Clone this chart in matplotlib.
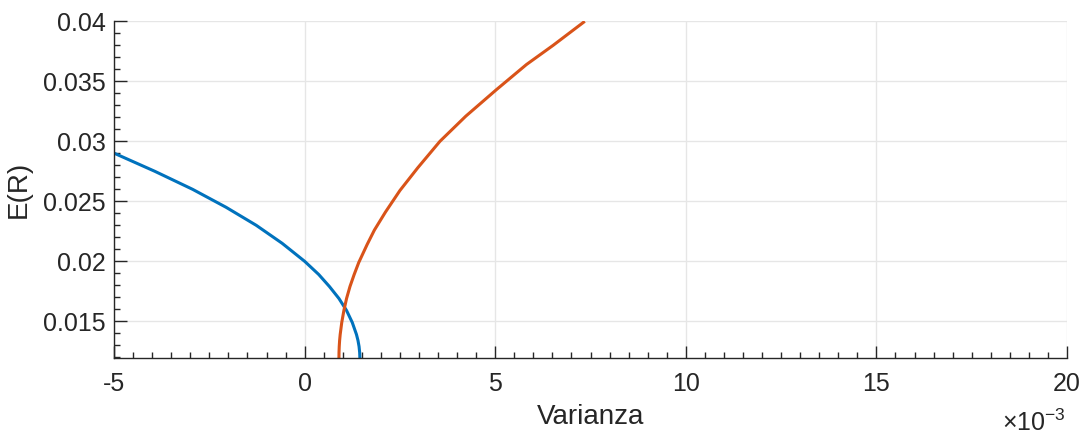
import numpy as np
import matplotlib
matplotlib.use("Agg")
import matplotlib.pyplot as plt
from matplotlib.ticker import FuncFormatter, MultipleLocator

plt.rcParams['font.family'] = ['Liberation Sans', 'DejaVu Sans']
plt.rcParams['mathtext.fontset'] = 'custom'
plt.rcParams['mathtext.rm'] = 'Liberation Sans'
plt.rcParams['axes.unicode_minus'] = False

# values (variance in units of 1e-3)
blue_var = [-4.99, -3.93, -2.94, -2.06, -1.27, -0.59, 0.0, 0.37, 0.65, 0.90,
            1.10, 1.25, 1.36, 1.40, 1.428, 1.444, 1.45]
blue_ret = [0.0290, 0.0275, 0.0260, 0.0245, 0.0230, 0.0215, 0.0200, 0.0189,
            0.0179, 0.0169, 0.0159, 0.0149, 0.0139, 0.0134, 0.0129, 0.0124, 0.0119]

orange_var = [0.90, 0.902, 0.908, 0.918, 0.933, 0.974, 1.03, 1.10, 1.19, 1.30,
              1.42, 1.64, 1.83, 2.12, 2.50, 2.97, 3.55, 4.23, 5.03, 5.82,
              6.52, 7.35]
orange_ret = [0.0119, 0.0124, 0.0129, 0.0134, 0.0139, 0.0149, 0.0159, 0.0169,
              0.0179, 0.0189, 0.0199, 0.0214, 0.0226, 0.0241, 0.0259, 0.0278,
              0.0300, 0.0321, 0.0343, 0.0364, 0.0380, 0.0400]

fig = plt.figure(figsize=(10.84, 4.36), dpi=100)
ax = fig.add_axes([0.1052, 0.1789, 0.8791, 0.7722])

ax.plot(np.array(blue_var) * 1e-3, blue_ret, color='#0072BD', lw=2.2, solid_capstyle='butt')
ax.plot(np.array(orange_var) * 1e-3, orange_ret, color='#D95319', lw=2.2, solid_capstyle='butt')

ax.set_xlim(-5e-3, 20e-3)
ax.set_ylim(0.01194, 0.04)
ax.xaxis.set_major_locator(MultipleLocator(5e-3))
ax.xaxis.set_minor_locator(MultipleLocator(0.5e-3))
ax.yaxis.set_major_locator(MultipleLocator(0.005))
ax.yaxis.set_minor_locator(MultipleLocator(0.001))
ax.xaxis.set_major_formatter(FuncFormatter(lambda v, p: f"{v * 1e3:g}"))
ax.yaxis.set_major_formatter(FuncFormatter(lambda v, p: f"{round(v, 4):g}"))

ax.grid(True, which='major', color='#E6E6E6', lw=1)
ax.set_axisbelow(True)
for s in ['top', 'right']:
    ax.spines[s].set_visible(False)
for s in ['left', 'bottom']:
    ax.spines[s].set_color('#262626')
    ax.spines[s].set_linewidth(1)

ax.tick_params(which='both', direction='in', colors='#262626', labelsize=18)
ax.tick_params(which='major', length=9, width=1)
ax.tick_params(which='minor', length=4.5, width=1)
ax.tick_params(axis='x', pad=10)
ax.tick_params(axis='y', pad=6)

ax.set_xlabel('Varianza', fontsize=20, color='#262626', labelpad=6)
ax.set_ylabel('E(R)', fontsize=20, color='#262626', labelpad=8)

fig.text(0.954, 0.0, r'$\times10^{-3}$', fontsize=18, color='#262626',
         ha='center', va='bottom')

fig.savefig('out.png', dpi=100)
